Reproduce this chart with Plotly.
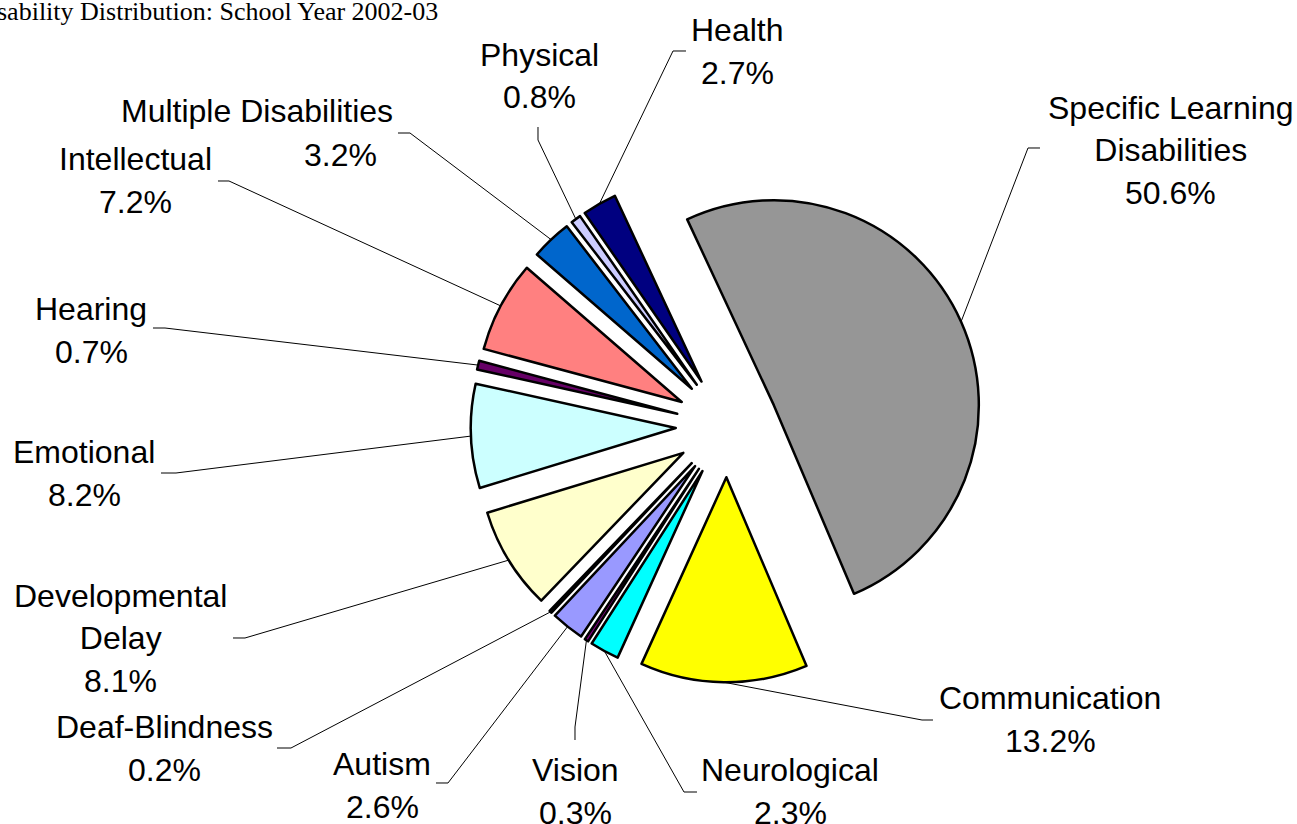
import math
import plotly.graph_objects as go

W, H = 1297, 824

# ---- data (Excel series order, drawn clockwise) ----
categories = ["Autism", "Deaf-Blindness", "Developmental<br>Delay", "Emotional", "Hearing",
              "Intellectual", "Multiple Disabilities", "Physical", "Health",
              "Specific Learning<br>Disabilities", "Communication", "Neurological", "Vision"]
values = [2.6, 0.2, 8.1, 8.2, 0.7, 7.2, 3.2, 0.8, 2.7, 50.6, 13.2, 2.3, 0.3]
colors = ["#9999FF", "#993366", "#FFFFCC", "#CCFFFF", "#660066", "#FF8080", "#0066CC",
          "#CCCCFF", "#000080", "#969696", "#FFFF00", "#00FFFF", "#800080"]
title_text = "Disability Distribution: School Year 2002-03"

# ---- layout constants (pixels) ----
CX, CY = 727, 426          # pie centre
R = 205                    # pie radius
PULL = 0.25                # explode fraction
SLD_START = -25            # angle (deg, clockwise from 12 o'clock) where the big slice starts
SLD_INDEX = 9
LS = 43                    # label line spacing

# label block centres, percent x offsets and leader-line elbows (pixels)
label_xy = [(382, 785), (165, 748), (120, 638), (84, 473), (91, 330), (135, 180), (257, 133),
            (539, 76), (737, 51), (1170, 150), (1050, 719), (790, 791), (575, 791)]
pct_dx = [0, 0, 0, 0, 0, 0, 83, 0, 0, 0, 0, 0, 0]
leader_knee = [(448, 783), (291, 748), (245, 638), (176, 473), (165, 328), (229, 181), (410, 133),
               (538, 140), (673, 51), (1028, 148), (922, 720), (684, 792), (575, 727)]
leader_end = [(436, 783), (277, 748), (233, 638), (161, 473), (153, 328), (218, 181), (398, 133),
              (538, 127), (686, 51), (1040, 148), (933, 720), (697, 792), (575, 740)]

total = sum(values)
rotation = SLD_START - 360.0 * sum(values[:SLD_INDEX]) / total
while rotation < -360:
    rotation += 360

half = R * (1 + PULL)
dom_x = [(CX - half) / W, (CX + half) / W]
dom_y = [1 - (CY + half) / H, 1 - (CY - half) / H]

fig = go.Figure(go.Pie(
    labels=categories,
    values=values,
    sort=False,
    direction="clockwise",
    rotation=rotation,
    pull=[PULL] * len(values),
    marker=dict(colors=colors, line=dict(color="black", width=2.5)),
    textinfo="none",
    hoverinfo="label+percent",
    showlegend=False,
    domain=dict(x=dom_x, y=dom_y),
))


def px(x, y):
    return x / W, 1 - y / H


LABEL_FONT = dict(family="Liberation Sans, Arial, sans-serif", size=32, color="black")

shapes = []
annotations = []
start = rotation
for i, (name, v) in enumerate(zip(categories, values)):
    span = 360.0 * v / total
    bis = math.radians(start + span / 2)
    start += span
    ax = CX + half * math.sin(bis)
    ay = CY - half * math.cos(bis)
    p0 = px(ax, ay)
    p1 = px(*leader_knee[i])
    p2 = px(*leader_end[i])
    shapes.append(dict(
        type="path", xref="paper", yref="paper",
        path=f"M {p0[0]:.5f},{p0[1]:.5f} L {p1[0]:.5f},{p1[1]:.5f} L {p2[0]:.5f},{p2[1]:.5f}",
        line=dict(color="black", width=1),
    ))
    n = name.count("<br>") + 1
    cx, cy = label_xy[i]
    nx, ny = px(cx, cy - LS / 2)
    annotations.append(dict(
        x=nx, y=ny, xref="paper", yref="paper", xanchor="center", yanchor="middle",
        text=name, showarrow=False, align="center", font=LABEL_FONT,
    ))
    qx, qy = px(cx + pct_dx[i], cy + n * LS / 2)
    annotations.append(dict(
        x=qx, y=qy, xref="paper", yref="paper", xanchor="center", yanchor="middle",
        text=f"{v:.1f}%", showarrow=False, align="center", font=LABEL_FONT,
    ))

tx, ty = px(-31, 12)
annotations.append(dict(
    x=tx, y=ty, xref="paper", yref="paper", xanchor="left", yanchor="middle",
    text=title_text, showarrow=False,
    font=dict(family="Liberation Serif, Times New Roman, serif", size=26, color="black"),
))

fig.update_layout(
    width=W, height=H, autosize=False,
    margin=dict(l=0, r=0, t=0, b=0),
    paper_bgcolor="white", plot_bgcolor="white",
    shapes=shapes, annotations=annotations,
)

fig.write_html("out.html", config={"displayModeBar": False},
               post_script="document.body.style.margin='0';document.body.style.overflow='hidden';")
